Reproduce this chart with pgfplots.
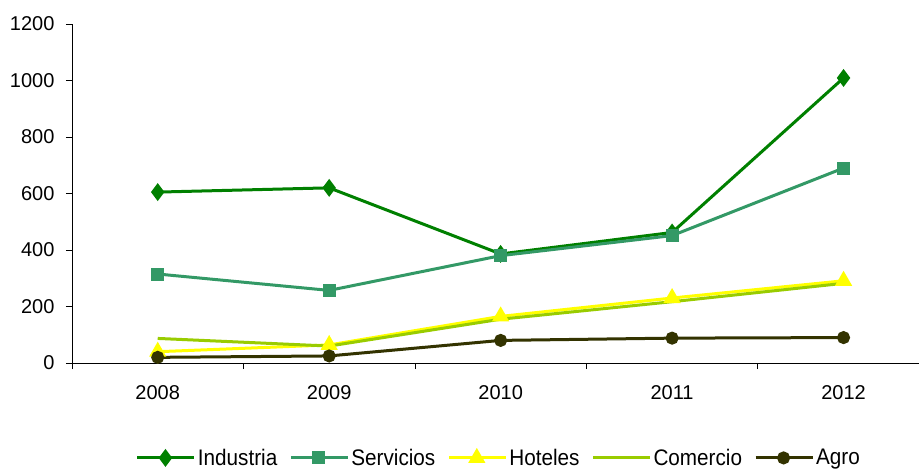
\documentclass[border=0pt]{standalone}
\usepackage{pgfplots}
\pgfplotsset{compat=1.18}
\usepackage{fontspec}
\setmainfont{Liberation Sans}
\newfontfamily\narrowfont[FakeStretch=0.92]{Liberation Sans}

\definecolor{industria}{RGB}{0,128,0}
\definecolor{servicios}{RGB}{51,153,102}
\definecolor{hoteles}{RGB}{255,255,0}
\definecolor{comercio}{RGB}{153,204,0}
\definecolor{agro}{RGB}{51,51,0}

\begin{document}
\begin{tikzpicture}
\useasboundingbox (-72pt,-106pt) rectangle (847pt,363pt);
\begin{axis}[
at={(0pt,0pt)}, anchor=south west,
scale only axis,
width=847pt, height=339pt,
xmin=-0.5, xmax=4.44,
ymin=0, ymax=1200,
axis x line*=bottom, axis y line*=left,
axis line style={-, black, line width=0.8pt},
xtick={0,...,4},
xticklabels={2008,2009,2010,2011,2012},
minor xtick={-0.5,0.5,1.5,2.5,3.5},
major x tick style={draw=none},
minor x tick style={draw=black, line width=0.8pt},
minor tick length=6pt,
ytick={0,200,...,1200},
tick align=outside,
major tick length=6pt,
y tick style={black, line width=0.8pt},
tick label style={font=\fontsize{20}{22}\selectfont},
xticklabel style={yshift=-13pt},
yticklabel style={xshift=-8pt},
/pgf/number format/assume math mode=true,
/pgf/number format/1000 sep={},
legend style={at={(0.504,-0.28)}, anchor=center, draw=none,
  font=\narrowfont\fontsize{22.5}{24}\selectfont,
  /tikz/every even column/.append style={column sep=10pt}},
legend columns=5,
legend image code/.code={\draw[mark repeat=2,mark phase=2] plot coordinates {(0pt,0pt) (28pt,0pt) (57pt,0pt)};},
every axis plot/.append style={line width=3pt},
]
\addplot[industria, mark=diamond*, mark size=6.5pt] coordinates {(0,605) (1,620) (2,386) (3,462) (4,1009)};
\addlegendentry{Industria}
\addplot[servicios, mark=square*, mark size=5pt] coordinates {(0,315) (1,257) (2,380) (3,451) (4,690)};
\addlegendentry{Servicios}
\addplot[hoteles, mark=triangle*, mark size=7pt] coordinates {(0,40) (1,64) (2,165) (3,230) (4,291)};
\addlegendentry{Hoteles}
\addplot[comercio, mark=none] coordinates {(0,87) (1,60) (2,155) (3,217) (4,282)};
\addlegendentry{Comercio}
\addplot[agro, mark=*, mark size=5pt] coordinates {(0,20) (1,25) (2,80) (3,88) (4,90)};
\addlegendentry{Agro}
\end{axis}
\end{tikzpicture}
\end{document}
